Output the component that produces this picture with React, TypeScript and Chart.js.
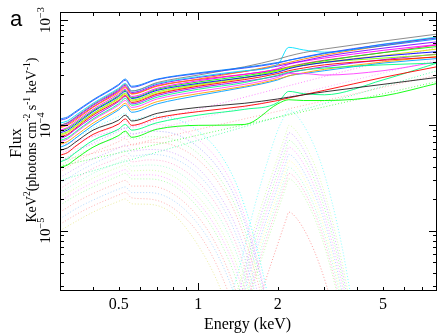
import React, { useEffect, useRef } from "react";
import { Chart, registerables } from "chart.js";
Chart.register(...registerables);

// ---------- axis ticks / labels ----------
const X_MIN = 0.3;
const X_MAX = 8;
const Y_MIN = 2.675e-6;
const Y_MAX = 1.191e-3;
const X_LABELS = [0.5, 1, 2, 5];
const X_MAJOR = [1];
const X_MINOR = [0.4, 0.5, 0.6, 0.7, 0.8, 0.9, 2, 3, 4, 5, 6, 7];
const Y_MAJOR = [1e-5, 1e-4, 1e-3];
const Y_LABEL_EXP = [-5, -4, -3];
const Y_MINOR = [
  3e-6, 4e-6, 5e-6, 6e-6, 7e-6, 8e-6, 9e-6,
  2e-5, 3e-5, 4e-5, 5e-5, 6e-5, 7e-5, 8e-5, 9e-5,
  2e-4, 3e-4, 4e-4, 5e-4, 6e-4, 7e-4, 8e-4, 9e-4,
];

// ---------- total model curves (solid), values in units of 1e-4 ----------
const E_SOLID = [0.3, 0.32, 0.34, 0.4, 0.5, 0.53, 0.56, 0.7, 1, 1.5, 2, 2.2, 2.5, 3, 5, 8];
const SOLID_COLORS = [
  "#0080ff", "#4040ff", "#808080", "#00e0ff", "#ff8000", "#8000ff", "#ff00ff", "#0000ff",
  "#80ff00", "#ff0000", "#e0e000", "#00ff80", "#ff40ff", "#ffa000", "#00a0ff", "#00ff00",
  "#a000ff", "#ff0080", "#202020", "#ff0000", "#00ff80", "#00ff00",
];
const SOLID_VALUES = [
  [1.15, 1.2, 1.33, 1.75, 2.45, 2.75, 2.35, 2.75, 3.15, 3.55, 3.95, 4.15, 4.4, 4.8, 5.7, 6.6],
  [1.12, 1.17, 1.3, 1.72, 2.4, 2.68, 2.3, 2.72, 3.1, 3.5, 3.9, 4.15, 4.45, 4.85, 5.85, 6.75],
  [1.0, 1.06, 1.18, 1.58, 2.2, 2.45, 2.12, 2.55, 3.0, 3.6, 4.25, 4.55, 4.9, 5.3, 6.3, 7.35],
  [1.05, 1.1, 1.22, 1.62, 2.25, 2.5, 2.12, 2.5, 2.9, 3.3, 3.8, 5.5, 5.2, 4.95, 5.9, 6.9],
  [0.95, 1.0, 1.1, 1.48, 2.05, 2.28, 1.98, 2.35, 2.75, 3.25, 3.75, 3.95, 4.25, 4.65, 5.7, 6.85],
  [1.0, 1.05, 1.16, 1.55, 2.15, 2.4, 2.05, 2.45, 2.85, 3.25, 3.65, 3.85, 4.1, 4.5, 5.4, 6.2],
  [0.9, 0.95, 1.06, 1.42, 1.98, 2.2, 1.88, 2.25, 2.65, 3.05, 3.45, 3.8, 4.05, 4.35, 5.15, 5.85],
  [0.85, 0.9, 1.0, 1.35, 1.88, 2.1, 1.8, 2.15, 2.5, 2.85, 3.2, 3.45, 3.7, 3.95, 4.55, 5.0],
  [0.82, 0.87, 0.97, 1.3, 1.82, 2.02, 1.74, 2.08, 2.45, 2.85, 3.3, 3.5, 3.7, 3.95, 4.35, 4.7],
  [0.78, 0.82, 0.92, 1.25, 1.72, 1.92, 1.65, 1.98, 2.35, 2.72, 3.1, 3.3, 3.5, 3.75, 4.15, 4.45],
  [0.8, 0.85, 0.95, 1.28, 1.78, 1.98, 1.7, 2.02, 2.4, 2.8, 3.3, 3.55, 3.75, 4.0, 4.6, 5.3],
  [0.72, 0.76, 0.85, 1.15, 1.6, 1.8, 1.55, 1.85, 2.2, 2.55, 3.0, 3.2, 3.35, 3.5, 3.75, 3.9],
  [0.7, 0.74, 0.83, 1.12, 1.55, 1.72, 1.48, 1.78, 2.1, 2.45, 2.85, 3.1, 3.1, 3.0, 3.3, 4.0],
  [0.66, 0.7, 0.78, 1.05, 1.45, 1.62, 1.4, 1.68, 2.0, 2.35, 2.75, 2.95, 3.15, 3.4, 4.0, 4.5],
  [0.62, 0.66, 0.74, 1.0, 1.4, 1.55, 1.33, 1.6, 1.92, 2.3, 2.7, 2.95, 3.1, 3.3, 3.9, 4.3],
  [0.88, 0.93, 1.03, 1.38, 1.92, 2.15, 1.83, 2.2, 2.58, 2.95, 3.35, 3.55, 3.8, 4.1, 4.9, 5.6],
  [0.75, 0.8, 0.9, 1.2, 1.68, 1.88, 1.6, 1.92, 2.28, 2.62, 2.95, 3.15, 3.35, 3.6, 4.2, 4.75],
  [0.97, 1.02, 1.13, 1.5, 2.1, 2.33, 2.0, 2.38, 2.72, 3.05, 3.4, 3.6, 3.85, 4.15, 4.9, 5.8],
  [0.58, 0.61, 0.68, 0.9, 1.12, 1.25, 1.1, 1.3, 1.48, 1.62, 1.78, 1.85, 1.95, 2.08, 2.45, 2.85],
  [0.52, 0.55, 0.62, 0.82, 1.03, 1.15, 1.0, 1.18, 1.35, 1.52, 1.72, 1.82, 1.95, 2.15, 2.85, 3.6],
  [0.45, 0.48, 0.54, 0.72, 0.92, 1.02, 0.9, 1.06, 1.25, 1.42, 1.65, 2.1, 2.0, 1.95, 2.7, 3.9],
  [0.4, 0.42, 0.47, 0.62, 0.8, 0.88, 0.77, 0.92, 1.0, 1.02, 1.6, 1.75, 1.72, 1.72, 1.9, 2.5],
];

// ---------- soft component (dotted), values in units of 1e-5 ----------
const E_SOFT = [0.3, 0.35, 0.4, 0.5, 0.53, 0.56, 0.65, 0.8, 1.0, 1.2, 1.4, 1.6, 1.8, 2.0];
const SOFT_VALUES = [
  [6.1, 7.8, 9.4, 12.1, 13, 11.3, 12.1, 11.7, 8.8, 5.5, 2.7, 1.0, 0.3, 0.08],
  [5.2, 6.6, 7.9, 10.2, 11, 9.6, 10.2, 9.8, 7.3, 4.5, 2.2, 0.8, 0.24, 0.06],
  [4.5, 5.7, 6.8, 8.8, 9.5, 8.3, 8.8, 8.4, 6.2, 3.8, 1.9, 0.72, 0.22, 0.05],
  [4.1, 5.2, 6.2, 8.0, 8.5, 7.4, 7.8, 7.4, 5.4, 3.2, 1.6, 0.6, 0.19, 0.05],
  [3.6, 4.6, 5.5, 7.0, 7.5, 6.5, 6.9, 6.5, 4.7, 2.8, 1.35, 0.5, 0.16, 0.04],
  [3.2, 4.0, 4.8, 6.1, 6.5, 5.7, 5.9, 5.5, 3.9, 2.2, 1.05, 0.4, 0.12, 0.03],
  [2.8, 3.6, 4.3, 5.5, 5.8, 5.1, 5.3, 4.9, 3.4, 1.9, 0.88, 0.32, 0.1, 0.025],
  [2.5, 3.2, 3.9, 4.9, 5.2, 4.5, 4.7, 4.3, 2.9, 1.6, 0.72, 0.26, 0.08, 0.02],
  [2.3, 2.9, 3.5, 4.45, 4.7, 4.1, 4.2, 3.8, 2.5, 1.35, 0.6, 0.21, 0.06, 0.015],
  [2.1, 2.6, 3.15, 4.0, 4.2, 3.7, 3.75, 3.3, 2.1, 1.1, 0.47, 0.16, 0.045, 0.011],
  [1.9, 2.4, 2.85, 3.6, 3.8, 3.35, 3.4, 2.95, 1.85, 0.95, 0.4, 0.13, 0.035, 0.008],
  [1.75, 2.2, 2.6, 3.3, 3.5, 3.1, 3.1, 2.7, 1.65, 0.82, 0.33, 0.1, 0.027, 0.006],
  [1.5, 1.9, 2.25, 2.85, 3.0, 2.65, 2.65, 2.25, 1.35, 0.65, 0.25, 0.075, 0.02, 0.004],
  [1.3, 1.65, 1.95, 2.48, 2.6, 2.3, 2.3, 1.95, 1.15, 0.55, 0.21, 0.06, 0.015, 0.003],
  [1.15, 1.45, 1.72, 2.18, 2.3, 2.05, 2.0, 1.65, 0.95, 0.42, 0.15, 0.04, 0.01, 0.002],
  [1.0, 1.25, 1.5, 1.9, 2.0, 1.8, 1.78, 1.45, 0.72, 0.3, 0.1, 0.025, 0.006, 0.0012],
];
const SOFT_COLORS = [
  "#00ffff", "#ff80ff", "#8080ff", "#80ff80", "#ff8080", "#c080ff", "#80c0ff", "#ff80c0",
  "#80ffc0", "#c0ff80", "#ff80ff", "#80ff80", "#ff8080", "#80c0ff", "#ff8080", "#e0e060",
];

// ---------- hard component near 2.2 keV (dotted), values in units of 1e-5 ----------
const E_HARD = [1.3, 1.45, 1.6, 1.8, 2.0, 2.15, 2.2, 2.35, 2.6, 2.9, 3.2, 3.5, 3.8, 4.2];
const HARD_VALUES = [
  [0.2, 0.5, 1.4, 4.0, 9.0, 13, 14, 12.5, 8.5, 4.5, 1.9, 0.7, 0.22, 0.05],
  [0.15, 0.35, 0.9, 2.3, 5.0, 8.5, 10, 8.8, 5.8, 3.0, 1.3, 0.5, 0.17, 0.04],
  [0.13, 0.3, 0.77, 1.95, 4.25, 7.2, 8.5, 7.5, 4.9, 2.55, 1.1, 0.42, 0.14, 0.034],
  [0.11, 0.25, 0.65, 1.65, 3.6, 6.1, 7.2, 6.3, 4.2, 2.15, 0.94, 0.36, 0.12, 0.03],
  [0.09, 0.22, 0.56, 1.43, 3.1, 5.3, 6.2, 5.45, 3.6, 1.85, 0.8, 0.31, 0.1, 0.025],
  [0.08, 0.19, 0.48, 1.22, 2.65, 4.5, 5.3, 4.65, 3.05, 1.6, 0.69, 0.26, 0.09, 0.021],
  [0.07, 0.16, 0.41, 1.06, 2.3, 3.9, 4.6, 4.05, 2.65, 1.38, 0.6, 0.23, 0.078, 0.018],
  [0.06, 0.14, 0.36, 0.92, 2.0, 3.4, 4.0, 3.5, 2.3, 1.2, 0.52, 0.2, 0.068, 0.016],
  [0.05, 0.12, 0.31, 0.8, 1.75, 2.98, 3.5, 3.08, 2.02, 1.05, 0.45, 0.17, 0.06, 0.014],
  [0.047, 0.11, 0.28, 0.71, 1.55, 2.64, 3.1, 2.73, 1.8, 0.93, 0.4, 0.155, 0.053, 0.012],
  [0.02, 0.05, 0.13, 0.34, 0.75, 1.28, 1.5, 1.32, 0.87, 0.45, 0.2, 0.075, 0.025, 0.006],
];
const HARD_COLORS = [
  "#40ffff", "#c0ff80", "#c080ff", "#80ff80", "#ff80ff", "#80c0ff", "#ffff80", "#80ffc0",
  "#ff80c0", "#a0ff80", "#ff6060",
];

// ---------- power-law components (dotted), values in units of 1e-4 ----------
const E_PL = [0.3, 8];
const PL_VALUES = [
  [0.41, 2.6],
  [0.55, 4.2],
  [0.3, 3.3],
  [0.65, 5.5],
  [0.46, 3.0],
];
const PL_COLORS = ["#00ff00", "#ff80ff", "#00ff80", "#ff40ff", "#ff8080"];

const SERIF = '"Liberation Serif", "Times New Roman", serif';

type Part = { t: string; sup?: boolean };

function richWidth(ctx: CanvasRenderingContext2D, parts: Part[], size: number) {
  let w = 0;
  for (const p of parts) {
    ctx.font = `${p.sup ? size * 0.68 : size}px ${SERIF}`;
    w += ctx.measureText(p.t).width;
  }
  return w;
}

function drawRich(ctx: CanvasRenderingContext2D, parts: Part[], cx: number, baseline: number, size: number) {
  const w = richWidth(ctx, parts, size);
  let x = cx - w / 2;
  ctx.textAlign = "left";
  ctx.textBaseline = "alphabetic";
  for (const p of parts) {
    ctx.font = `${p.sup ? size * 0.68 : size}px ${SERIF}`;
    ctx.fillText(p.t, x, p.sup ? baseline - size * 0.4 : baseline);
    x += ctx.measureText(p.t).width;
  }
}

const frame = {
  id: "frame",
  afterDatasetsDraw(chart: any) {
    const ctx: CanvasRenderingContext2D = chart.ctx;
    const { left, top, right, bottom } = chart.chartArea;
    const xs = chart.scales.x;
    const ys = chart.scales.y;
    ctx.save();
    ctx.strokeStyle = "#000";
    ctx.fillStyle = "#000";
    ctx.lineWidth = 1;
    ctx.strokeRect(left + 0.5, top + 0.5, right - left - 1, bottom - top - 1);

    const xTick = (v: number, len: number) => {
      const px = Math.round(xs.getPixelForValue(v)) + 0.5;
      ctx.beginPath();
      ctx.moveTo(px, bottom);
      ctx.lineTo(px, bottom - len);
      ctx.moveTo(px, top);
      ctx.lineTo(px, top + len);
      ctx.stroke();
    };
    const yTick = (v: number, len: number) => {
      const py = Math.round(ys.getPixelForValue(v)) + 0.5;
      ctx.beginPath();
      ctx.moveTo(left, py);
      ctx.lineTo(left + len, py);
      ctx.moveTo(right, py);
      ctx.lineTo(right - len, py);
      ctx.stroke();
    };
    X_MINOR.forEach((v) => xTick(v, 4));
    X_MAJOR.forEach((v) => xTick(v, 8));
    Y_MINOR.forEach((v) => yTick(v, 4));
    Y_MAJOR.forEach((v) => yTick(v, 8));

    // x tick labels
    ctx.font = `16px ${SERIF}`;
    ctx.textAlign = "center";
    ctx.textBaseline = "alphabetic";
    X_LABELS.forEach((v) => {
      ctx.fillText(String(v), xs.getPixelForValue(v), 309);
    });
    // x title
    ctx.font = `16px ${SERIF}`;
    ctx.fillText("Energy (keV)", (left + right) / 2 - 1, 329);

    // y tick labels (rotated)
    Y_MAJOR.forEach((v, i) => {
      const py = ys.getPixelForValue(v);
      ctx.save();
      ctx.translate(50, py);
      ctx.rotate(-Math.PI / 2);
      drawRich(ctx, [{ t: "10" }, { t: "\u2212" + Math.abs(Y_LABEL_EXP[i]), sup: true }], 0, 0, 15);
      ctx.restore();
    });

    // y title
    ctx.save();
    ctx.translate(21, 143);
    ctx.rotate(-Math.PI / 2);
    drawRich(ctx, [{ t: "Flux" }], 0, 0, 16);
    ctx.restore();
    ctx.save();
    ctx.translate(36, 140);
    ctx.rotate(-Math.PI / 2);
    drawRich(
      ctx,
      [
        { t: "KeV" }, { t: "2", sup: true }, { t: "(photons cm" }, { t: "-2", sup: true },
        { t: " s" }, { t: "-1", sup: true }, { t: " keV" }, { t: "-1", sup: true }, { t: ")" },
      ],
      0, 0, 14,
    );
    ctx.restore();

    // panel letter
    ctx.font = `22px "Liberation Sans", Arial, sans-serif`;
    ctx.textAlign = "left";
    ctx.fillText("a", 10, 26);
    ctx.restore();
  },
};

function toPoints(es: number[], vs: number[], unit: number) {
  return es.map((e, i) => ({ x: e, y: vs[i] * unit }));
}

function withAlpha(hex: string, a: number) {
  const r = parseInt(hex.slice(1, 3), 16);
  const g = parseInt(hex.slice(3, 5), 16);
  const b = parseInt(hex.slice(5, 7), 16);
  return `rgba(${r},${g},${b},${a})`;
}

export default function App() {
  const ref = useRef<HTMLCanvasElement>(null);
  useEffect(() => {
    const datasets: any[] = [];
    SOLID_VALUES.forEach((vs, i) => {
      datasets.push({
        data: toPoints(E_SOLID, vs, 1e-4),
        borderColor: SOLID_COLORS[i],
        borderWidth: 0.9,
        cubicInterpolationMode: "monotone",
        clip: 0,
      });
    });
    SOFT_VALUES.forEach((vs, i) => {
      datasets.push({
        data: toPoints(E_SOFT, vs, 1e-5),
        borderColor: withAlpha(SOFT_COLORS[i], 0.6),
        borderWidth: 1,
        borderDash: [1, 2],
        cubicInterpolationMode: "monotone",
        clip: 0,
      });
    });
    HARD_VALUES.forEach((vs, i) => {
      datasets.push({
        data: toPoints(E_HARD, vs, 1e-5),
        borderColor: withAlpha(HARD_COLORS[i], 0.6),
        borderWidth: 1,
        borderDash: [1, 2],
        cubicInterpolationMode: "monotone",
        clip: 0,
      });
    });
    PL_VALUES.forEach((vs, i) => {
      datasets.push({
        data: toPoints(E_PL, vs, 1e-4),
        borderColor: withAlpha(PL_COLORS[i], 0.6),
        borderWidth: 1,
        borderDash: [1, 2],
        clip: 0,
      });
    });

    const chart = new Chart(ref.current as HTMLCanvasElement, {
      type: "line",
      data: { datasets },
      options: {
        animation: false,
        responsive: false,
        parsing: false as any,
        normalized: true,
        layout: { padding: { left: 60, top: 12, right: 2, bottom: 42 } },
        elements: { point: { radius: 0 } },
        plugins: { legend: { display: false }, tooltip: { enabled: false } },
        scales: {
          x: { type: "logarithmic", min: X_MIN, max: X_MAX, display: false },
          y: { type: "logarithmic", min: Y_MIN, max: Y_MAX, display: false },
        },
      },
      plugins: [frame],
    });
    return () => chart.destroy();
  }, []);
  return (
    <div style={{ position: "fixed", left: 0, top: 0, width: 439, height: 333, background: "#fff" }}>
      <canvas ref={ref} width={439} height={333} style={{ display: "block", width: 439, height: 333 }} />
    </div>
  );
}
